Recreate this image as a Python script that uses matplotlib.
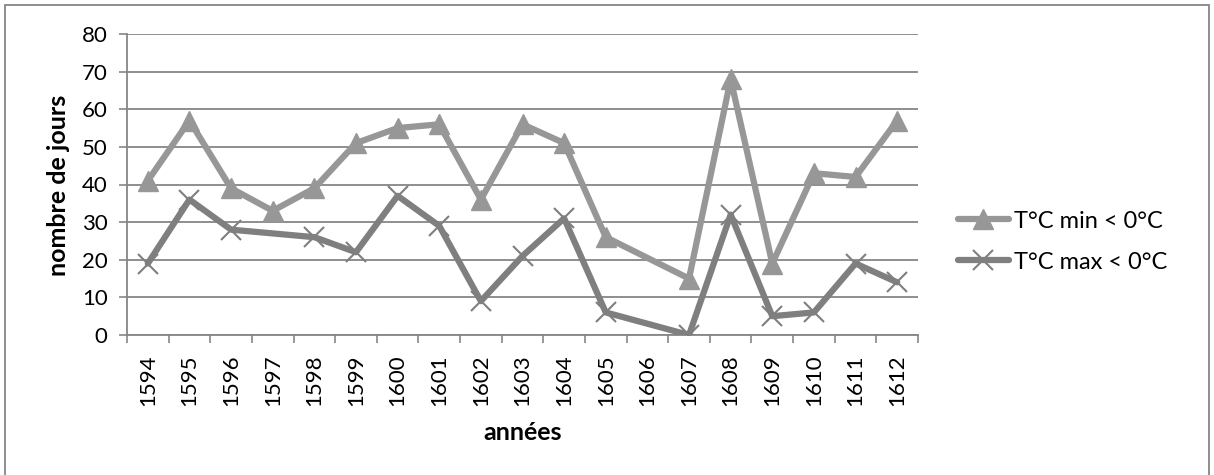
import numpy as np
import matplotlib
matplotlib.use("Agg")
import matplotlib.pyplot as plt
from matplotlib.patches import Rectangle

# données (None = pas de valeur)
annees = ["1594", "1595", "1596", "1597", "1598", "1599", "1600", "1601", "1602", "1603",
          "1604", "1605", "1606", "1607", "1608", "1609", "1610", "1611", "1612"]
t_min = [41, 57, 39, 33, 39, 51, 55, 56, 36, 56, 51, 26, None, 15, 68, 19, 43, 42, 57]
t_max = [19, 36, 28, None, 26, 22, 37, 29, 9, 21, 31, 6, None, 0, 32, 5, 6, 19, 14]

plt.rcParams['font.family'] = ['Lato', 'DejaVu Sans']

fig = plt.figure(figsize=(12.14, 4.75), dpi=100)
ax = fig.add_axes([127 / 1214, 1 - 335 / 475, (918 - 127) / 1214, (335 - 34) / 475])

x = np.arange(len(annees))


def tracer(valeurs, couleur, marqueur, taille, label, mew):
    xs = [i for i, v in zip(x, valeurs) if v is not None]
    ys = [v for v in valeurs if v is not None]
    ax.plot(xs, ys, color=couleur, linewidth=4.5, marker=marqueur, markersize=taille,
            markeredgewidth=mew, markerfacecolor=couleur, markeredgecolor=couleur,
            label=label, zorder=3, solid_joinstyle='round', solid_capstyle='round')


tracer(t_min, '#979797', '^', 14, 'T°C min < 0°C', 1)
tracer(t_max, '#7f7f7f', 'x', 14, 'T°C max < 0°C', 1.5)

ax.set_xlim(-0.5, len(annees) - 0.5)
ax.set_ylim(0, 80)
ax.set_yticks(range(0, 81, 10))
ax.yaxis.grid(True, color='#868686', linewidth=1.3)
ax.set_axisbelow(True)

ax.set_xticks(np.arange(-0.5, len(annees), 1), minor=False)
ax.set_xticklabels([])
ax.set_xticks(x, minor=True)
ax.set_xticklabels(annees, minor=True, rotation=90, fontsize=16)
ax.tick_params(axis='x', which='major', length=6, color='#868686', width=1.2, direction='out')
ax.tick_params(axis='x', which='minor', length=0, pad=14)
ax.tick_params(axis='y', length=6, color='#868686', width=1.2, labelsize=16, pad=8)

for cote in ['top', 'right']:
    ax.spines[cote].set_visible(False)
for cote in ['left', 'bottom']:
    ax.spines[cote].set_color('#868686')
    ax.spines[cote].set_linewidth(1.3)

fig.text(58 / 1214, 1 - 185 / 475, 'nombre de jours', fontsize=18, fontweight='bold',
         rotation=90, ha='center', va='center')
fig.text(523 / 1214, 1 - 433 / 475, 'années', fontsize=18, fontweight='bold',
         ha='center', va='center')

leg = ax.legend(loc='center left', bbox_to_anchor=(1.038, 0.31), frameon=False,
                fontsize=17, handlelength=2.2, labelspacing=0.85, handletextpad=0.2,
                borderaxespad=0)

# cadre extérieur
fig.patches.append(Rectangle((5 / 1214, -0.05), 1204 / 1214, 1 - 5 / 475 + 0.05,
                             transform=fig.transFigure, fill=False,
                             edgecolor='#868686', linewidth=1.3))

fig.savefig('out.png', dpi=100)
